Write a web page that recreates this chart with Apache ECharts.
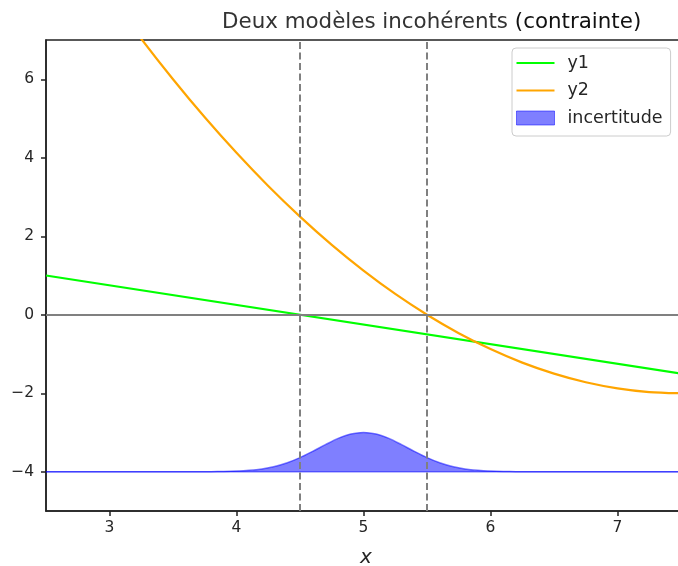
<!DOCTYPE html>
<html><head><meta charset="utf-8">
<script src="https://cdn.jsdelivr.net/npm/echarts@6/dist/echarts.min.js"></script>
<style>html,body{margin:0;padding:0;background:#fff}#c{width:678px;height:566px}</style>
</head><body><div id="c"></div>
<script>
const titleMain = 'Deux modèles incohérents ';
const titleSub = '(contrainte)';
const xName = 'x';
const xTicks = [3, 4, 5, 6, 7];
const yTicks = [-4, -2, 0, 2, 4, 6];
const y1X = [2.5, 7.5];
const y1Y = [1.0, -1.5];
const y2X = [2.5, 2.75, 3.0, 3.25, 3.5, 3.75, 4.0, 4.25, 4.5, 4.75, 5.0, 5.25, 5.5, 5.75, 6.0, 6.25, 6.5, 6.75, 7.0, 7.25, 7.5];
const y2Y = [10.5, 9.28, 8.125, 7.03, 6.0, 5.03, 4.125, 3.28, 2.5, 1.78, 1.125, 0.53, 0.0, -0.47, -0.875, -1.22, -1.5, -1.72, -1.875, -1.97, -2.0];
const bandX = [2.5, 3.0, 3.5, 3.8, 3.9, 4.0, 4.1, 4.2, 4.3, 4.4, 4.5, 4.6, 4.7, 4.8, 4.9, 5.0, 5.1, 5.2, 5.3, 5.4, 5.5, 5.6, 5.7, 5.8, 5.9, 6.0, 6.1, 6.2, 6.5, 7.0, 7.5];
const bandTop = [-4, -4, -4, -3.997, -3.993, -3.983, -3.963, -3.927, -3.865, -3.77, -3.64, -3.48, -3.31, -3.15, -3.04, -3.0, -3.04, -3.15, -3.31, -3.48, -3.64, -3.77, -3.865, -3.927, -3.963, -3.983, -3.993, -3.997, -4, -4, -4];
const bandBase = -4;
const vLines = [4.5, 5.5];
const hLine = 0;
const seriesNames = ['y1', 'y2', 'incertitude'];

const FONT = 'DejaVu Sans';
const TXT = '#262626';
const fmt = v => (v < 0 ? '\u2212' + Math.abs(v) : String(v));
const linePath = 'path://M0,0L38,0L38,2L0,2Z';
const bandColor = 'rgba(0,0,255,0.5)';

const chart = echarts.init(document.getElementById('c'), null, {renderer: 'canvas'});
chart.setOption({
  animation: false,
  backgroundColor: '#fff',
  title: {
    text: '{a|' + titleMain + '}{b|' + titleSub + '}',
    left: 217, top: 7,
    textStyle: {
      fontWeight: 'normal',
      rich: {
        a: {fontFamily: FONT, fontSize: 21.4, fontWeight: 'normal', color: '#333'},
        b: {fontFamily: FONT, fontSize: 21.4, fontWeight: 'normal', color: '#111'}
      }
    }
  },
  grid: {left: 46, top: 40, width: 635, height: 471, outerBoundsMode: 'none', containLabel: false, show: true, borderColor: '#222', borderWidth: 1.5, backgroundColor: 'transparent'},
  legend: {
    orient: 'vertical', left: 512, top: 48,
    padding: [6, 8, 9, 4],
    itemWidth: 38, itemHeight: 14, itemGap: 9.5,
    backgroundColor: 'rgba(255,255,255,0.85)',
    borderColor: '#cccccc', borderWidth: 1, borderRadius: 4,
    textStyle: {fontFamily: FONT, fontSize: 17.5, color: TXT, padding: [0, 0, 0, 8]},
    data: [
      {name: seriesNames[0], icon: linePath},
      {name: seriesNames[1], icon: linePath},
      {name: seriesNames[2], icon: 'rect', itemStyle: {color: bandColor, borderColor: bandColor, borderWidth: 1}}
    ]
  },
  xAxis: {
    type: 'value', min: 2.5, max: 7.5,
    name: xName, nameLocation: 'middle', nameGap: 37,
    nameTextStyle: {fontFamily: FONT, fontSize: 20, fontStyle: 'italic', color: TXT, padding: [0, 0, 0, 5]},
    axisLine: {show: true, onZero: false, lineStyle: {color: '#222', width: 1.5}},
    axisTick: {show: true, length: 5, lineStyle: {color: '#222', width: 1.5}, customValues: xTicks},
    axisLabel: {fontFamily: FONT, fontSize: 15.5, color: TXT, margin: 9, customValues: xTicks, formatter: fmt},
    splitLine: {show: false}
  },
  yAxis: {
    type: 'value', min: -5, max: 7,
    axisLine: {show: true, onZero: false, lineStyle: {color: '#222', width: 1.5}},
    axisTick: {show: true, length: 5, lineStyle: {color: '#222', width: 1.5}, customValues: yTicks},
    axisLabel: {fontFamily: FONT, fontSize: 15.5, color: TXT, margin: 12, customValues: yTicks, formatter: fmt},
    splitLine: {show: false}
  },
  series: [
    {
      name: 'refs', type: 'line', data: [], silent: true,
      markLine: {
        silent: true, symbol: 'none', label: {show: false},
        data: [
          {yAxis: hLine, lineStyle: {color: '#808080', width: 2, type: 'solid'}},
          ...vLines.map(v => ({xAxis: v, lineStyle: {color: '#808080', width: 2, type: [7, 3.5]}}))
        ]
      }
    },
    {
      name: 'base', type: 'line',
      data: bandX.map(x => [x, bandBase]),
      showSymbol: false, symbol: 'none',
      lineStyle: {color: bandColor, width: 1.5}, itemStyle: {color: bandColor}
    },
    {
      name: seriesNames[2], type: 'line',
      data: bandX.map((x, i) => [x, bandTop[i]]),
      showSymbol: false, symbol: 'none', smooth: 0.3,
      lineStyle: {color: bandColor, width: 1.5}, itemStyle: {color: bandColor},
      areaStyle: {color: bandColor, opacity: 1, origin: bandBase}
    },
    {
      name: seriesNames[0], type: 'line',
      data: y1X.map((x, i) => [x, y1Y[i]]),
      showSymbol: false, symbol: 'none',
      lineStyle: {color: '#00ff00', width: 2.2}, itemStyle: {color: '#00ff00'}
    },
    {
      name: seriesNames[1], type: 'line',
      data: y2X.map((x, i) => [x, y2Y[i]]),
      showSymbol: false, symbol: 'none', smooth: 0.3, clip: true,
      lineStyle: {color: '#ffa500', width: 2.2}, itemStyle: {color: '#ffa500'}
    }
  ]
});
</script>
</body></html>
